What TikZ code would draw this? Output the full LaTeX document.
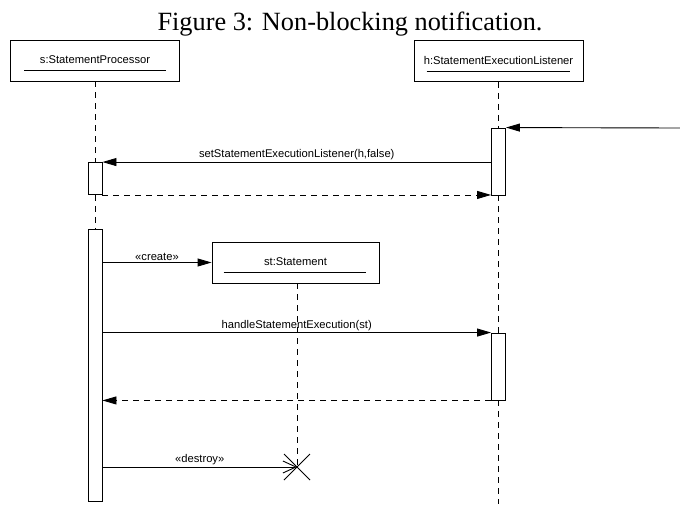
\documentclass[tikz,border=0pt]{standalone}
\usepackage{fontspec}
\setmainfont{Liberation Sans}
\newfontfamily\titlefont{Liberation Serif}
\usetikzlibrary{arrows.meta,calc}
\begin{document}
\begin{tikzpicture}[x=1pt,y=-1pt,
  every node/.style={font=\fontsize{11.2}{13}\selectfont},
  objbox/.style={draw,line width=0.9pt,minimum width=169pt,minimum height=41pt,inner sep=0pt,text depth=0pt},
  actbar/.style={draw,fill=white,line width=0.9pt,minimum width=14pt,inner sep=0pt},
  lifeline/.style={line width=0.9pt,dash pattern=on 6pt off 5pt},
  msg/.style={line width=0.9pt,-{Triangle[length=14pt,width=8pt]}},
  ret/.style={msg,dash pattern=on 6pt off 5pt},
  lbl/.style={above,inner sep=1.5pt}]
\useasboundingbox (0,0) rectangle (680,504);
\node[font=\titlefont\fontsize{26.3}{30}\selectfont,anchor=base] (title) at (350,30) {Figure 3: Non-blocking notification.};
% objects
\node[objbox] (sp) at (95,60.5) {};
\node (sptext) at (95,60) {s:StatementProcessor};
\draw[line width=0.9pt] ([xshift=14pt,yshift=11pt]sp.south west) -- ([xshift=-14pt,yshift=11pt]sp.south east);
\node[objbox] (hp) at (498.5,61) {};
\node (hptext) at (498.5,60.5) {h:StatementExecutionListener};
\draw[line width=0.9pt] ([xshift=13pt,yshift=11pt]hp.south west) -- ([xshift=-13pt,yshift=11pt]hp.south east);
% activation bars
\node[actbar,minimum height=67pt] (ha1) at (498.5,161.5) {};
\node[actbar,minimum height=32pt] (sa1) at (95,178.5) {};
\node[actbar,minimum height=272pt] (sa2) at (95,365) {};
\node[actbar,minimum height=67pt] (ha2) at (498.5,366.5) {};
% lifelines
\coordinate (hend) at (498.5,504);
\draw[lifeline] (sp.south) -- (sa1.north);
\draw[lifeline] (sa1.south) -- (sa2.north);
\draw[lifeline] (hp.south) -- (ha1.north);
\draw[lifeline] (ha1.south) -- (ha2.north);
\draw[lifeline] (ha2.south) -- (hend);
% incoming
\coordinate (ext) at (680,128);
\draw[msg] (ext) -- (ha1.north east);
% setStatementExecutionListener
\draw[msg] (ha1.west |- sa1.north) -- node[lbl] (m1) {setStatementExecutionListener(h,false)} (sa1.north east);
\draw[ret] (sa1.south east) -- (ha1.west |- sa1.south);
% st:Statement
\node[objbox,minimum width=167pt] (st) at (295.5,262.5) {};
\node (sttext) at (295.5,262) {st:Statement};
\draw[line width=0.9pt] ([xshift=12pt,yshift=11pt]st.south west) -- ([xshift=-13pt,yshift=11pt]st.south east);
\draw[msg] (sa2.east |- st.west) -- node[lbl] (m2) {«create»} (st.west);
% handle
\draw[msg] (sa2.east |- ha2.north) -- node[lbl] (m3) {handleStatementExecution(st)} (ha2.north west);
\draw[ret] (ha2.south west) -- (sa2.east |- ha2.south);
% destroy
\coordinate (x) at (297,467);
\draw[lifeline] (297,283) -- (x);
\draw[line width=0.9pt,-{Straight Barb[length=13pt,width=12pt]}] (sa2.east |- x) -- node[lbl] (m4) {«destroy»} (x);
\draw[line width=0.9pt] ($(x)+(-13,-13)$) -- ($(x)+(13,13)$) ($(x)+(-13,13)$) -- ($(x)+(13,-13)$);
\end{tikzpicture}
\end{document}
